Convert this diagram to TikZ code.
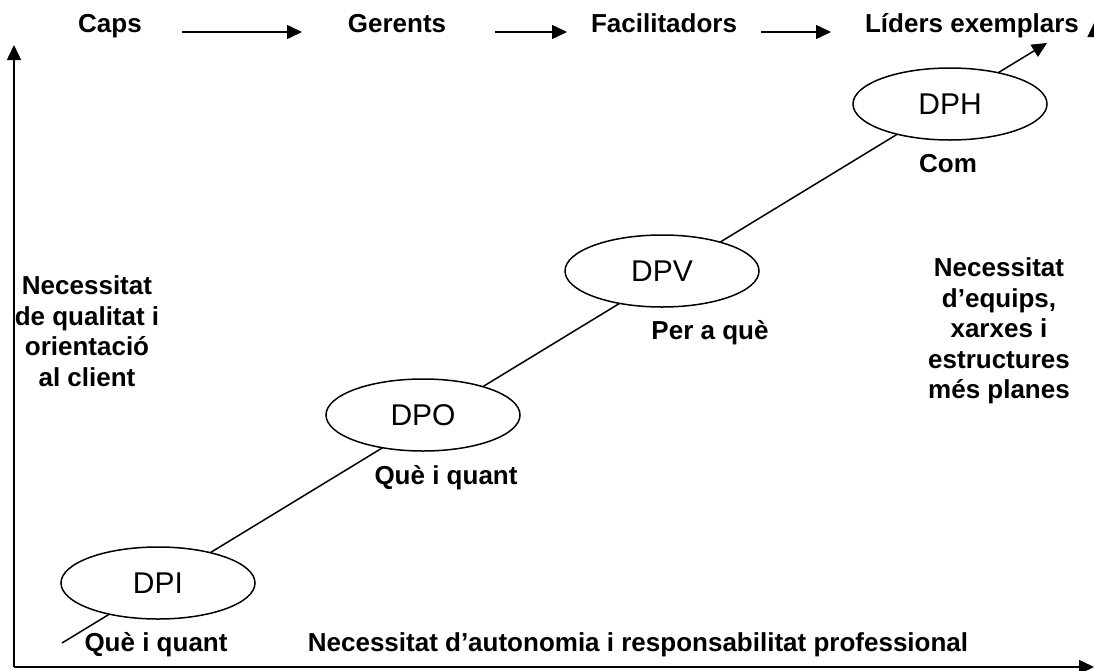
\documentclass[tikz,border=0pt]{standalone}
\usepackage{fontspec}
\setmainfont{Liberation Sans}
\usetikzlibrary{arrows.meta,shapes.geometric}
\begin{document}
\begin{tikzpicture}[x=1pt,y=-1pt,
  lbl/.style={font=\fontsize{26}{30.6}\selectfont\bfseries, inner sep=0pt},
  blk/.style={lbl, align=center},
  stage/.style={ellipse, draw, line width=1.5pt, fill=white,
    minimum width=194pt, minimum height=72pt, inner sep=0pt,
    font=\fontsize{30}{36}\selectfont},
  arr/.style={line width=1.5pt, -{Triangle[length=15pt,width=14pt]}},
]
\useasboundingbox (0,0) rectangle (1094,670);

% axes
\coordinate (O) at (14,667);
\coordinate (ytop) at (14,45);
\coordinate (xend) at (1094,667);
\coordinate (rbot) at (1094.5,667);
\coordinate (rtop) at (1094.5,22);
\draw[arr] (O) -- (ytop);
\draw[arr] (O) -- (xend);
\draw[arr] (rbot) -- (rtop);

% rising path
\coordinate (d0) at (62,643);
\coordinate (d1) at (1047,43);
\draw[arr] (d0) -- (d1);

\node[stage] (dpi) at (158,583) {DPI};
\node[stage] (dpo) at (423,415) {DPO};
\node[stage] (dpv) at (662,271) {DPV};
\node[stage] (dph) at (950,104) {DPH};

% stage labels
\node[lbl, anchor=base] (q1) at (156,651) {Què i quant};
\node[lbl, anchor=base] (q2) at (446,484) {Què i quant};
\node[lbl, anchor=base] (pq) at (710,339) {Per a què};
\node[lbl, anchor=base] (com) at (948,172) {Com};

% top sequence
\node[lbl, anchor=base] (caps) at (110,32) {Caps};
\node[lbl, anchor=base] (ger) at (397,32) {Gerents};
\node[lbl, anchor=base] (fac) at (664,32) {Facilitadors};
\node[lbl, anchor=base] (lid) at (972,32) {Líders exemplars};
\coordinate (a1s) at (182,32); \coordinate (a1e) at (302,32);
\coordinate (a2s) at (495,32); \coordinate (a2e) at (567,32);
\coordinate (a3s) at (761,32); \coordinate (a3e) at (831,32);
\draw[arr] (a1s) -- (a1e);
\draw[arr] (a2s) -- (a2e);
\draw[arr] (a3s) -- (a3e);

% side and bottom texts
\node[blk] (left) at (87,331) {Necessitat\\de qualitat i\\orientació\\al client};
\node[blk] (right) at (999,331) {Necessitat\\d’equips,\\xarxes i\\estructures\\més planes};
\node[lbl, anchor=base] (bottom) at (638,651) {Necessitat d’autonomia i responsabilitat professional};
\end{tikzpicture}
\end{document}
